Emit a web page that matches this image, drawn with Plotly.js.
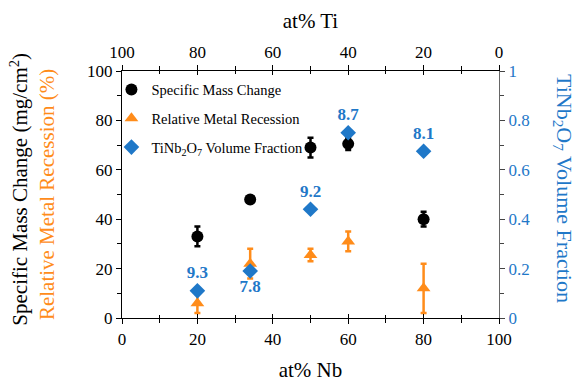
<!DOCTYPE html>
<html>
<head>
<meta charset="utf-8">
<script src="https://cdn.plot.ly/plotly-3.0.1.min.js"></script>
<style>html,body{margin:0;padding:0;background:#fff;}#chart{width:583px;height:383px;}</style>
</head>
<body>
<div id="chart"></div>
<script>
// Data
const nb = [20, 34, 50, 60, 80];
const massChange = [33, 48, 69, 70.5, 40];
const massErr = [4, 1, 4, 2.5, 3];
const recession = [6, 22, 25.5, 31, 12];
const recessionErr = [4, 6, 2.5, 4, 10];
const volFrac = [0.11, 0.19, 0.44, 0.75, 0.675];
const volLabels = ['9.3', '7.8', '9.2', '8.7', '8.1'];
const volLabelPos = ['top center', 'bottom center', 'top center', 'top center', 'top center'];
const nbTicks = [0, 20, 40, 60, 80, 100];
const tiTicks = [100, 80, 60, 40, 20, 0];

const BLUE = '#1f78c8';
const ORANGE = '#ff8c1a';
const FONT = 'Liberation Serif';

const traces = [
  {
    x: nb, y: massChange, type: 'scatter', mode: 'markers',
    name: 'Specific Mass Change', legendgroup: 'a',
    marker: {symbol: 'circle', size: 12, color: '#000'},
    error_y: {type: 'data', array: massErr, visible: true, color: '#000', thickness: 2.5, width: 3},
    xaxis: 'x', yaxis: 'y'
  },
  {
    x: nb, y: recession, type: 'scatter', mode: 'markers',
    name: 'Relative Metal Recession', legendgroup: 'b',
    marker: {symbol: 'triangle-up', size: 12, color: ORANGE},
    error_y: {type: 'data', array: recessionErr, visible: true, color: ORANGE, thickness: 2.5, width: 3},
    xaxis: 'x', yaxis: 'y'
  },
  {
    x: nb, y: volFrac, type: 'scatter', mode: 'markers+text',
    name: 'TiNb<sub>2</sub>O<sub>7</sub> Volume Fraction', legendgroup: 'c',
    marker: {symbol: 'diamond', size: 12, color: BLUE},
    text: volLabels, textposition: volLabelPos,
    textfont: {family: FONT, size: 17, color: BLUE, weight: 'bold'},
    xaxis: 'x', yaxis: 'y2'
  },
  {
    x: tiTicks, y: [0,0,0,0,0,0], type: 'scatter', mode: 'markers',
    marker: {opacity: 0}, showlegend: false, hoverinfo: 'skip',
    xaxis: 'x2', yaxis: 'y'
  },
  {
    x: nbTicks, y: [0,0,0,0,0,0], type: 'scatter', mode: 'markers',
    marker: {opacity: 0}, showlegend: false, hoverinfo: 'skip',
    xaxis: 'x3', yaxis: 'y'
  },
  {
    x: nbTicks, y: [0,0,0,0,0,0], type: 'scatter', mode: 'markers',
    marker: {opacity: 0}, showlegend: false, hoverinfo: 'skip',
    xaxis: 'x4', yaxis: 'y'
  }
];

const axisCommon = {
  showgrid: false, zeroline: false,
  showline: true, linecolor: '#000', linewidth: 1.2,
  ticks: 'outside', ticklen: 5, tickcolor: '#000',
  tickfont: {family: FONT, size: 17, color: '#000'}
};

const layout = {
  width: 583, height: 383,
  margin: {l: 122, r: 84, t: 71, b: 65},
  paper_bgcolor: '#fff', plot_bgcolor: '#fff',
  font: {family: FONT, size: 17, color: '#000'},
  showlegend: true,
  legend: {
    x: -0.028, y: 0.99, xanchor: 'left', yanchor: 'top',
    bgcolor: 'rgba(0,0,0,0)', font: {family: FONT, size: 14.5},
    tracegroupgap: 7, itemwidth: 30
  },
  xaxis: Object.assign({}, axisCommon, {
    range: [0, 100], dtick: 20, tick0: 0,
    minor: {dtick: 10, ticks: 'outside', ticklen: 4, tickcolor: '#000'},
    title: {text: 'at% Nb', font: {family: FONT, size: 21}, standoff: 14}
  }),
  xaxis2: Object.assign({}, axisCommon, {
    overlaying: 'x', side: 'top', range: [100, 0], dtick: 20, tick0: 0,
    minor: {dtick: 10, ticks: 'outside', ticklen: 4, tickcolor: '#000'},
    title: {text: 'at% Ti', font: {family: FONT, size: 21}, standoff: 8}
  }),
  xaxis3: {
    overlaying: 'x', side: 'bottom', range: [0, 100], dtick: 20, tick0: 0,
    showgrid: false, zeroline: false, showline: false, showticklabels: false,
    ticks: 'inside', ticklen: 4, tickcolor: '#000',
    minor: {dtick: 10, ticks: 'inside', ticklen: 3, tickcolor: '#000'}
  },
  xaxis4: {
    overlaying: 'x', side: 'top', range: [0, 100], dtick: 20, tick0: 0,
    showgrid: false, zeroline: false, showline: false, showticklabels: false,
    ticks: 'inside', ticklen: 4, tickcolor: '#000',
    minor: {dtick: 10, ticks: 'inside', ticklen: 3, tickcolor: '#000'}
  },
  yaxis: Object.assign({}, axisCommon, {
    range: [0, 100], dtick: 20, tick0: 0,
    minor: {dtick: 10, ticks: 'outside', ticklen: 4, tickcolor: '#000'}
  }),
  yaxis2: Object.assign({}, axisCommon, {
    overlaying: 'y', side: 'right', range: [0, 1], dtick: 0.2, tick0: 0,
    linecolor: '#666', tickcolor: '#444',
    minor: {dtick: 0.1, ticks: 'outside', ticklen: 4, tickcolor: '#444'},
    tickfont: {family: FONT, size: 17, color: BLUE}
  }),
  annotations: [
    {xref: 'paper', yref: 'paper', x: -0.273, y: 0.52, xanchor: 'center', yanchor: 'middle',
     text: 'Specific Mass Change (mg/cm<sup>2</sup>)', textangle: -90, showarrow: false,
     font: {family: FONT, size: 21, color: '#000'}},
    {xref: 'paper', yref: 'paper', x: -0.2, y: 0.5, xanchor: 'center', yanchor: 'middle',
     text: 'Relative Metal Recession (%)', textangle: -90, showarrow: false,
     font: {family: FONT, size: 21, color: ORANGE}},
    {xref: 'paper', yref: 'paper', x: 1.17, y: 0.526, xanchor: 'center', yanchor: 'middle',
     text: 'TiNb<sub>2</sub>O<sub>7</sub> Volume Fraction', textangle: 90, showarrow: false,
     font: {family: FONT, size: 22, color: BLUE}}
  ]
};

Plotly.newPlot('chart', traces, layout, {displayModeBar: false, staticPlot: true});
</script>
</body>
</html>
